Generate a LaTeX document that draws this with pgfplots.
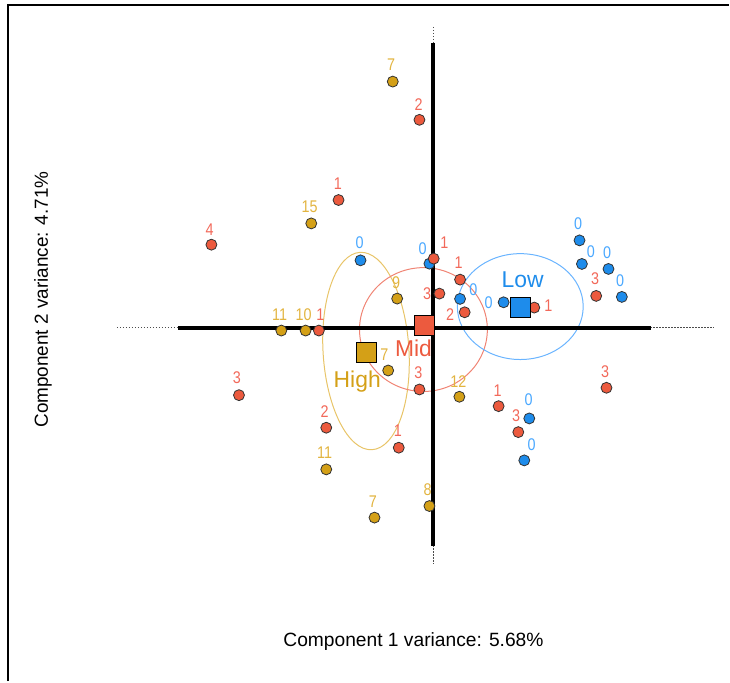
\documentclass[border=0pt]{standalone}
\usepackage{pgfplots}
\pgfplotsset{compat=1.18}
\usepackage{pgfplotstable}
\usepackage{fontspec}
\setmainfont{Liberation Sans}
\newfontfamily\narrowfont[FakeStretch=0.85]{Liberation Sans}
\definecolor{goldpt}{HTML}{D4A017}
\definecolor{redpt}{HTML}{EC5A3E}
\definecolor{bluept}{HTML}{1E8CEB}
\definecolor{goldlab}{HTML}{E2B440}
\definecolor{redlab}{HTML}{F2695A}
\definecolor{bluelab}{HTML}{4AA8FF}
\definecolor{goldell}{HTML}{E8C468}
\definecolor{redell}{HTML}{F08474}
\definecolor{blueell}{HTML}{6AB4FF}

\pgfplotstableread{
x y
393.3 81.7
311.7 223.7
397.7 299
281.7 331
306 331
388.7 371
460 397.3
326.7 470
375 518.3
430 506.7
}\highpts
\pgfplotstableread{
x y lab
391.7 65 7
310 207.3 15
396.7 282.7 9
280 315 11
304 315 10
385 355 7
459 381.7 12
325 453.3 11
373.3 502.7 7
428.3 490.7 8
}\highlab
\pgfplotstableread{
x y
420 120
339 200.3
211.7 245
434.3 259
460.7 280
440 294
465.3 312.7
319.3 331
535 308
597 296.3
420 390
239.3 395.7
326.7 428.3
399.3 448.3
499.3 406.7
519 432.7
607.3 388.3
}\midpts
\pgfplotstableread{
x y lab
419.3 104.3 2
338.3 184.3 1
210 230 4
445 243 1
459.3 263.3 1
427.7 294 3
450.7 315.3 2
320.7 315 1
549 306 1
596 279 3
419 373.3 3
237.3 378.3 3
325 411.7 2
398.3 431.7 1
498.3 391.7 1
516.7 416.7 3
606 371.7 3
}\midlab
\pgfplotstableread{
x y
361 260.7
430 264
460.7 299.3
504.3 302.7
580.3 240.7
582.7 264.3
609.3 269.3
622.7 297.3
530 419
525 461
}\lowpts
\pgfplotstableread{
x y lab
360 242.7 0
423.3 249.3 0
474 290 0
489.3 302.7 0
579 224 0
591.7 251.7 0
608 253 0
621 281 0
529.3 400.7 0
532.3 445 0
}\lowlab

\begin{document}
\begin{tikzpicture}
\begin{axis}[
  width=730bp, height=682bp, scale only axis,
  xmin=0, xmax=730, ymin=0, ymax=682, y dir=reverse,
  axis lines=none, clip=false,
  labnodes/.style={only marks, mark=none, nodes near coords,
    point meta=explicit symbolic, nodes near coords align=center,
    every node near coord/.append style={font=\narrowfont\fontsize{17}{17}\selectfont, inner sep=0pt}},
]
\path (axis cs:0,0) rectangle (axis cs:730,682);
% frame
\draw[line width=2bp] (axis cs:8,682) -- (axis cs:8,5) -- (axis cs:730,5);

% group ellipses
\draw[goldell, line width=1bp, rotate around={3.5:(axis cs:366.5,351.5)}]
  (axis cs:366.5,351.5) ellipse [x radius=43, y radius=99];
\draw[redell, line width=1bp] (axis cs:424,330) ellipse [x radius=64, y radius=62];
\draw[blueell, line width=1bp] (axis cs:521,307) ellipse [x radius=63, y radius=53];

% component axes
\draw[black!70, line width=1bp, dash pattern=on 1.5bp off 1.5bp] (axis cs:117,328) -- (axis cs:715,328);
\draw[black!70, line width=1bp, dash pattern=on 1.5bp off 1.5bp] (axis cs:434,27) -- (axis cs:434,565);
\draw[black, line width=4bp] (axis cs:178,328) -- (axis cs:652,328);
\draw[black, line width=4bp] (axis cs:434,43) -- (axis cs:434,547);

% samples
\addplot[only marks, mark=*, mark size=5.5, mark options={fill=goldpt, draw=black!80, line width=0.8bp}] table {\highpts};
\addplot[only marks, mark=*, mark size=5.5, mark options={fill=bluept, draw=black!80, line width=0.8bp}] table {\lowpts};
\addplot[only marks, mark=*, mark size=5.5, mark options={fill=redpt, draw=black!80, line width=0.8bp}] table {\midpts};

% group centroids
\addplot[only marks, mark=square*, mark size=10, mark options={fill=goldpt, draw=black, line width=1bp}] coordinates {(366.7,352.7)};
\addplot[only marks, mark=square*, mark size=10, mark options={fill=redpt, draw=black, line width=1bp}] coordinates {(425,325.7)};
\addplot[only marks, mark=square*, mark size=10, mark options={fill=bluept, draw=black, line width=1bp}] coordinates {(521,308.3)};

% sample labels
\addplot[labnodes, every node near coord/.append style={text=goldlab}] table[meta=lab] {\highlab};
\addplot[labnodes, every node near coord/.append style={text=redlab}] table[meta=lab] {\midlab};
\addplot[labnodes, every node near coord/.append style={text=bluelab}] table[meta=lab] {\lowlab};

% group names
\node[text=goldpt, font=\fontsize{23}{23}\selectfont] at (axis cs:357.7,381.7) {High};
\node[text=redpt, font=\fontsize{23}{23}\selectfont] at (axis cs:414,349) {Mid};
\node[text=bluept, font=\fontsize{23}{23}\selectfont] at (axis cs:523.3,280) {Low};

% axis titles
\node[font=\fontsize{19.3}{19.3}\selectfont] at (axis cs:414,642) {Component 1 variance: 5.68\%};
\node[font=\fontsize{19}{19}\selectfont, rotate=90] at (axis cs:43,300) {Component 2 variance: 4.71\%};
\end{axis}
\end{tikzpicture}
\end{document}
